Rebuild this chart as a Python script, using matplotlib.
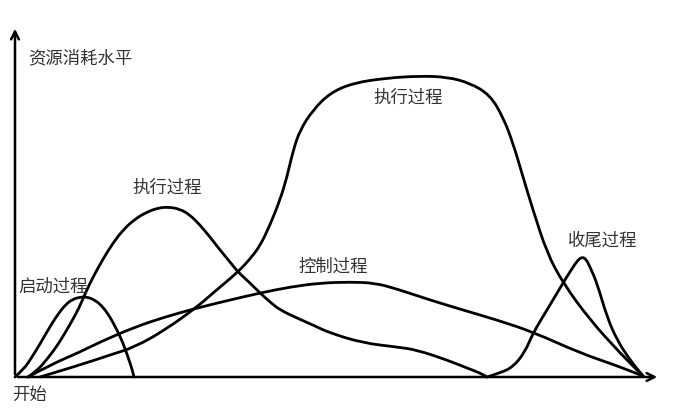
import numpy as np
import matplotlib
matplotlib.use('Agg')
import matplotlib.pyplot as plt
from matplotlib.path import Path
from matplotlib.patches import PathPatch

plt.rcParams['font.family'] = ['Noto Sans CJK SC', 'DejaVu Sans']

# curve samples, x = time, y = resource level (origin at lower left)
startX = [0, 9, 17, 25, 33, 41, 50, 58, 66, 72, 80, 88, 95, 102, 108, 113, 117, 119]
startY = [0, 8, 20, 33, 47, 60, 72, 78, 80, 80, 77, 70, 60, 47, 34, 20, 8, 0]

execSmallX = [13, 22, 33, 42, 50, 57, 64, 70, 77, 88, 98, 108, 120, 132, 143, 153, 165, 175, 185,
              195, 205, 215, 223, 235, 245, 255, 265, 282, 300, 315, 348, 382, 402, 432, 452, 465, 472]
execSmallY = [0, 6, 19, 31, 44, 56, 69, 83, 98, 118, 134, 147, 158, 165, 169, 170, 168, 162, 152,
              140, 127, 115, 105, 94, 84, 75, 67, 59, 51, 44, 34, 30, 27, 17, 9, 4, 0]

controlX = [13, 35, 65, 85, 120, 150, 182, 215, 245, 275, 305, 335, 360, 382, 415, 448, 482, 518, 565, 600, 628]
controlY = [0, 12, 25, 35, 50, 60, 69, 77, 84, 90, 94, 95, 94, 88, 77, 67, 57, 45, 24, 12, 1]

execBigX = [25, 65, 95, 120, 150, 182, 198, 223, 235, 245, 255, 265, 272, 278, 285, 298, 315, 338, 372,
            405, 432, 455, 475, 488, 498, 508, 518, 532, 548, 575, 605, 628]
execBigY = [0, 12, 22, 30, 47, 70, 84, 105, 118, 131, 152, 177, 200, 226, 247, 267, 284, 294, 299,
            301, 300, 294, 282, 260, 234, 200, 167, 124, 94, 57, 24, 1]

endX = [472, 485, 498, 510, 518, 532, 548, 558, 563, 567, 571, 575, 582, 592, 602, 615, 628]
endY = [0, 4, 10, 25, 44, 67, 94, 110, 117, 120, 118, 110, 94, 60, 37, 17, 1]

labels = ['资源消耗水平', '开始', '启动过程', '执行过程', '控制过程', '执行过程', '收尾过程']
labelX = [13, -3, 3, 117, 283, 358, 553]
labelY = [319, -18, 90, 189, 110, 279, 136]


#-------------------------------------------------------------------------
def smoothPath(xs, ys):
  # quadratic bezier through midpoints, samples act as control points
  pts = list(zip(xs, ys))
  verts = [pts[0]]
  codes = [Path.MOVETO]
  for i in range(1, len(pts) - 1):
    mid = ((pts[i][0] + pts[i+1][0]) / 2.0, (pts[i][1] + pts[i+1][1]) / 2.0)
    verts += [pts[i], mid]
    codes += [Path.CURVE3, Path.CURVE3]
  verts.append(pts[-1])
  codes.append(Path.LINETO)
  return Path(verts, codes)


fig = plt.figure(figsize=(6.9, 4.16), dpi=100)
ax = fig.add_axes([15/690, 39/416, 645/690, 350/416])
ax.set_xlim(0, 645)
ax.set_ylim(0, 350)
ax.axis('off')

lw = 2.0
for xs, ys in [(startX, startY), (execSmallX, execSmallY), (controlX, controlY),
               (execBigX, execBigY), (endX, endY)]:
  ax.add_patch(PathPatch(smoothPath(xs, ys), facecolor='none', edgecolor='black', lw=lw,
                         joinstyle='round', capstyle='round', clip_on=False))

# axes with arrows
ax.annotate('', xy=(645, 0), xytext=(0, 0),
            arrowprops=dict(arrowstyle='->', color='black', lw=1.8, mutation_scale=14), annotation_clip=False)
ax.annotate('', xy=(0, 351), xytext=(0, 0),
            arrowprops=dict(arrowstyle='->', color='black', lw=1.8, mutation_scale=14), annotation_clip=False)

for t, x, y in zip(labels, labelX, labelY):
  ax.text(x, y, t, fontsize=12.5, color='#333333', fontweight='light', ha='left', va='center')

fig.savefig('out.png', dpi=100)
